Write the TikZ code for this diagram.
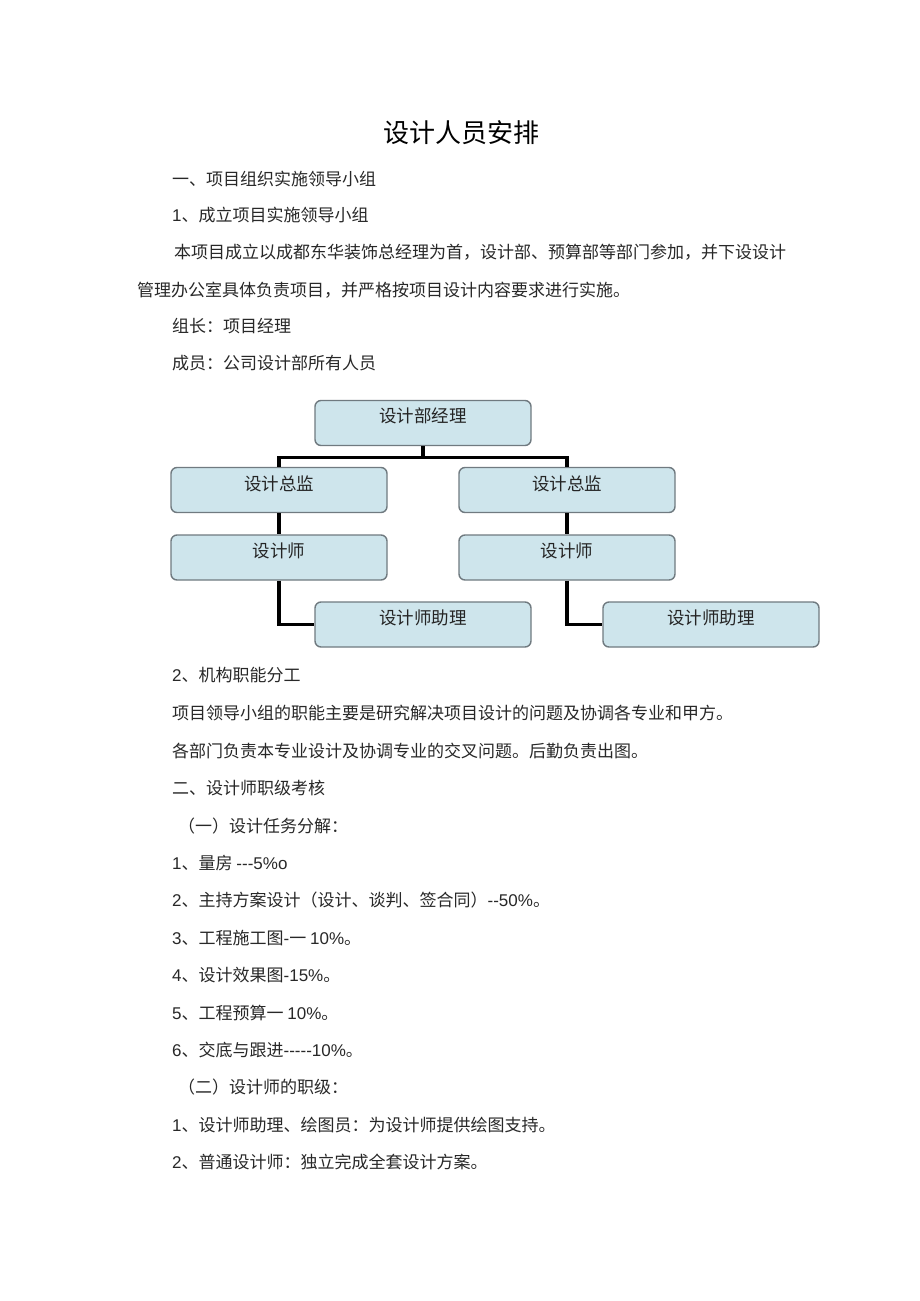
\documentclass[tikz,border=0pt]{standalone}
\usepackage{fontspec}
\setmainfont{Noto Sans CJK SC}
\newfontfamily\lat{Liberation Sans}
\definecolor{boxfill}{RGB}{206,229,236}
\definecolor{boxline}{RGB}{112,122,128}
\definecolor{bodytext}{RGB}{40,40,40}
\begin{document}
\begin{tikzpicture}[x=1pt,y=-1pt,
  body/.style={anchor=west,inner sep=0pt,text=bodytext,font=\fontsize{17pt}{20pt}\selectfont},
  orgbox/.style={draw=boxline,fill=boxfill,line width=1.4pt,rounded corners=6pt,minimum width=216pt,minimum height=45pt,inner sep=0pt},
  boxtext/.style={inner sep=0pt,text=bodytext!90!black,font=\fontsize{17.5pt}{20pt}\selectfont},
  conn/.style={line width=3.4pt,black}]
\fill[white] (0,0) rectangle (920,1301);
\useasboundingbox (0,0) rectangle (920,1301);

% title
\node[inner sep=0pt,font=\fontsize{26pt}{30pt}\selectfont] (title) at (461,133) {设计人员安排};

% section 1
\node[body] (l1) at (172,179) {一、项目组织实施领导小组};
\node[body] (l2) at (172,215) {{\lat 1}、成立项目实施领导小组};
\node[body] (l3) at (174,252) {本项目成立以成都东华装饰总经理为首，设计部、预算部等部门参加，并下设设计};
\node[body] (l4) at (137,290) {管理办公室具体负责项目，并严格按项目设计内容要求进行实施。};
\node[body] (l5) at (172,326) {组长：项目经理};
\node[body] (l6) at (172,363) {成员：公司设计部所有人员};

% org chart
\node[orgbox] (mgr) at (423,423) {};
\node[orgbox] (dirL) at (279,490) {};
\node[orgbox] (dirR) at (567,490) {};
\node[orgbox] (desL) at (279,557.5) {};
\node[orgbox] (desR) at (567,557.5) {};
\node[orgbox] (astL) at (423,624.5) {};
\node[orgbox] (astR) at (711,624.5) {};

\node[boxtext] (tmgr) at ([yshift=7pt]mgr.center) {设计部经理};
\node[boxtext] (tdirL) at ([yshift=6pt]dirL.center) {设计总监};
\node[boxtext] (tdirR) at ([yshift=6pt]dirR.center) {设计总监};
\node[boxtext] (tdesL) at ([yshift=7pt]desL.center) {设计师};
\node[boxtext] (tdesR) at ([yshift=7pt]desR.center) {设计师};
\node[boxtext] (tastL) at ([yshift=7pt]astL.center) {设计师助理};
\node[boxtext] (tastR) at ([yshift=7pt]astR.center) {设计师助理};

\draw[conn] (mgr.south) -- ++(0,11.5) coordinate (bar);
\draw[conn] (bar) -| (dirL.north);
\draw[conn] (bar) -| (dirR.north);
\draw[conn] (dirL.south) -- (desL.north);
\draw[conn] (dirR.south) -- (desR.north);
\draw[conn] (desL.south) |- (astL.west);
\draw[conn] (desR.south) |- (astR.west);

% section 2
\node[body] (m1) at (172,675) {{\lat 2}、机构职能分工};
\node[body] (m2) at (172,713) {项目领导小组的职能主要是研究解决项目设计的问题及协调各专业和甲方。};
\node[body] (m3) at (172,751) {各部门负责本专业设计及协调专业的交叉问题。后勤负责出图。};
\node[body] (m4) at (172,788) {二、设计师职级考核};
\node[body] (m5) at (178,826) {（一）设计任务分解：};
\node[body] (n1) at (172,863) {{\lat 1}、量房 {\lat -\kern0pt-\kern0pt-5\%o}};
\node[body] (n2) at (172,900) {{\lat 2}、主持方案设计（设计、谈判、签合同）{\lat -\kern0pt-50\%}。};
\node[body] (n3) at (172,938) {{\lat 3}、工程施工图{\lat -}一 {\lat 10\%}。};
\node[body] (n4) at (172,975) {{\lat 4}、设计效果图{\lat -15\%}。};
\node[body] (n5) at (172,1013) {{\lat 5}、工程预算一 {\lat 10\%}。};
\node[body] (n6) at (172,1050) {{\lat 6}、交底与跟进{\lat -\kern0pt-\kern0pt-\kern0pt-\kern0pt-10\%}。};
\node[body] (m6) at (178,1087) {（二）设计师的职级：};
\node[body] (p1) at (172,1125) {{\lat 1}、设计师助理、绘图员：为设计师提供绘图支持。};
\node[body] (p2) at (172,1162) {{\lat 2}、普通设计师：独立完成全套设计方案。};
\end{tikzpicture}
\end{document}
